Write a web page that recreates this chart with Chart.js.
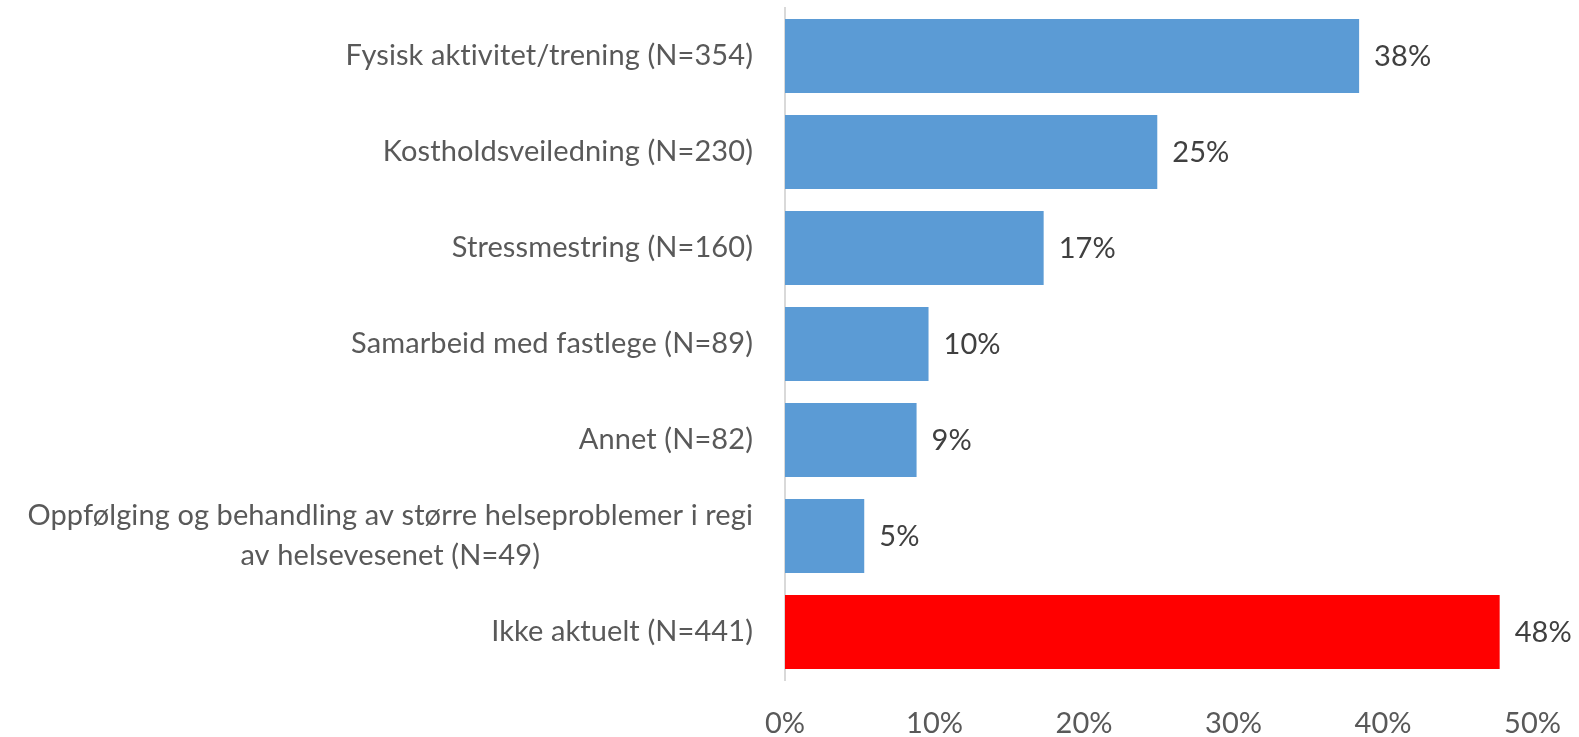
<!DOCTYPE html>
<html>
<head>
<meta charset="utf-8">
<script src="https://cdn.jsdelivr.net/npm/chart.js@4/dist/chart.umd.min.js"></script>
<style>
  html, body { margin: 0; padding: 0; background: #ffffff; }
  #wrap { width: 1579px; height: 737px; }
</style>
</head>
<body>
<div id="wrap"><canvas id="c" width="1579" height="737"></canvas></div>
<script>
const categories = [
  "Fysisk aktivitet/trening (N=354)",
  "Kostholdsveiledning (N=230)",
  "Stressmestring (N=160)",
  "Samarbeid med fastlege (N=89)",
  "Annet (N=82)",
  ["Oppfølging og behandling av større helseproblemer i regi", "av helsevesenet (N=49)"],
  "Ikke aktuelt (N=441)"
];
const percentValues = [38.4, 24.9, 17.3, 9.6, 8.8, 5.3, 47.8];
const valueLabels = ["38%", "25%", "17%", "10%", "9%", "5%", "48%"];
const xTicks = [0, 10, 20, 30, 40, 50];

const FONT = "Lato, 'Open Sans', sans-serif";
const FS = 29;
const highlightIndex = categories.length - 1;

const labelPlugin = {
  id: 'customLabels',
  afterDraw(chart) {
    const ctx = chart.ctx;
    const y = chart.scales.y;
    const x = chart.scales.x;
    const area = chart.chartArea;
    ctx.save();
    ctx.font = FS + "px " + FONT;
    try { ctx.letterSpacing = '0.1px'; } catch (e) {}
    ctx.textBaseline = 'middle';
    ctx.fillStyle = '#595959';
    ctx.textAlign = 'center';
    const rightEdge = area.left - 32;
    const lh = 40;
    categories.forEach((lab, i) => {
      const lines = Array.isArray(lab) ? lab : [lab];
      const maxW = Math.max(...lines.map(l => ctx.measureText(l).width));
      const cx = rightEdge - maxW / 2;
      const cy = y.getPixelForValue(i);
      lines.forEach((l, k) => {
        ctx.fillText(l, cx, cy + (k - (lines.length - 1) / 2) * lh);
      });
    });
    ctx.fillStyle = '#404040';
    ctx.textAlign = 'left';
    percentValues.forEach((v, i) => {
      ctx.fillText(valueLabels[i], x.getPixelForValue(v) + 15, y.getPixelForValue(i) + 1);
    });
    ctx.restore();
  }
};

new Chart(document.getElementById('c'), {
  type: 'bar',
  data: {
    labels: categories,
    datasets: [{
      data: percentValues,
      backgroundColor: (c) => c.dataIndex === highlightIndex ? '#FF0000' : '#5B9BD5',
      barPercentage: 0.77,
      categoryPercentage: 1.0
    }]
  },
  options: {
    indexAxis: 'y',
    responsive: false,
    animation: false,
    layout: { padding: { top: 8, right: 33, left: 0, bottom: 0 } },
    plugins: { legend: { display: false }, tooltip: { enabled: false } },
    scales: {
      x: {
        min: 0, max: 50,
        afterBuildTicks: (s) => { s.ticks = xTicks.map(v => ({ value: v })); },
        afterFit: (s) => { s.height = 57; },
        grid: { display: false },
        border: { display: false },
        ticks: {
          callback: (v) => v + '%',
          color: '#595959',
          padding: 18,
          maxRotation: 0,
          font: { family: FONT, size: FS }
        }
      },
      y: {
        afterFit: (s) => { s.width = 785; },
        grid: { display: false },
        border: { display: true, color: '#d9d9d9', width: 2 },
        ticks: { display: false }
      }
    }
  },
  plugins: [labelPlugin]
});
</script>
</body>
</html>
